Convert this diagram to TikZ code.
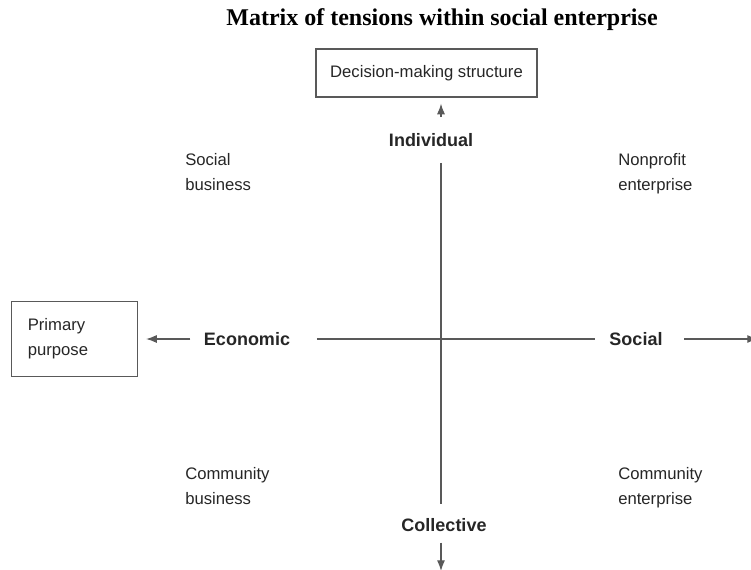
\documentclass[tikz,border=0pt]{standalone}
\usepackage{fontspec}
\setmainfont{Liberation Serif}
\setsansfont{Liberation Sans}
\usetikzlibrary{arrows.meta,positioning}

\begin{document}
\begin{tikzpicture}[x=0.75pt,y=-0.75pt,>={Latex[length=8pt,width=6pt]},
                    every node/.style={font=\sffamily\fontsize{12.5}{18.5}\selectfont,text=black!85},
                    axis node/.style={font=\sffamily\bfseries\fontsize{13.5}{16}\selectfont,inner sep=0pt},
                    box node/.style={draw=black!65,line width=0.9pt,rectangle},
                    quad node/.style={align=left,anchor=north west,inner sep=0pt},
                    line/.style={draw=black!65,line width=0.9pt}]

  \useasboundingbox (0,0) rectangle (751,569);

  \node[font=\rmfamily\bfseries\fontsize{18}{21}\selectfont,text=black] (title) at (442,20) {Matrix of tensions within social enterprise};

  % the two dimensions and where they point
  \node[box node,minimum width=165.75pt,minimum height=36pt] (dms) at (426.5,73) {Decision-making structure};
  \node[box node,minimum width=94.5pt,minimum height=56.25pt,text width=70pt,align=left,inner xsep=12pt] (purp) at (74.5,339) {Primary\\purpose};

  \coordinate (o) at (441,339);
  \coordinate (bot) at (441,571);
  \coordinate (rt) at (758,339);

  \node[axis node] (indiv) at (431,140) {Individual};
  \node[axis node] (coll) at (444,525) {Collective};
  \node[axis node] (econ) at (247,339) {Economic};
  \node[axis node] (soc) at (636,339) {Social};

  % quadrants
  \node[quad node] (sb) at (185,153) {Social\\business};
  \node[quad node] (npe) at (618,153) {Nonprofit\\enterprise};
  \node[quad node] (cb) at (185,467) {Community\\business};
  \node[quad node] (ce) at (618,467) {Community\\enterprise};

  % axes
  \draw[line,shorten <=12pt,shorten >=10.5pt] (indiv.south -| o) -- (coll.north -| o);
  \draw[line,shorten <=20pt,shorten >=11pt] (econ.east) -- (soc.west);
  \draw[line,->,shorten <=12pt,shorten >=4.5pt] (indiv.north -| o) -- (dms.south -| o);
  \draw[line,->,shorten <=8pt] (coll.south -| o) -- (bot);
  \draw[line,->,shorten <=10pt,shorten >=6pt] (econ.west) -- (purp.east);
  \draw[line,->,shorten <=16pt] (soc.east) -- (rt);

\end{tikzpicture}
\end{document}
